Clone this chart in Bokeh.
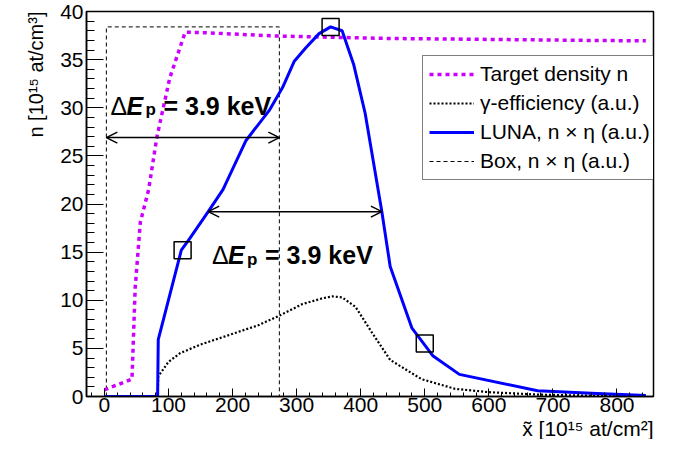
from bokeh.plotting import figure
from bokeh.models import Range1d, SingleIntervalTicker, Arrow, OpenHead, Label, Legend, LegendItem, Title
from bokeh.embed import file_html
from bokeh.resources import INLINE

# ---- data ----
x_density = [0, 43, 48, 56, 69, 82, 102, 126, 155, 268, 443, 600, 750, 845]
y_density = [0.7, 1.8, 11.3, 18.1, 21.5, 27.0, 33.1, 37.85, 37.8, 37.45, 37.2, 37.1, 37.0, 36.95]

x_eff = [0, 83, 84, 100, 118, 150, 195, 240, 273, 309, 340, 356, 371, 392, 418, 446, 495, 547, 600, 676, 760, 845]
y_eff = [0, 0, 2.1, 3.6, 4.5, 5.4, 6.4, 7.4, 8.4, 9.6, 10.2, 10.4, 10.3, 9.3, 6.6, 3.8, 1.8, 0.8, 0.45, 0.2, 0.08, 0.03]

x_luna = [0, 83, 84, 120, 133, 162, 185, 221, 257, 278, 296, 314, 335, 353, 371, 389, 407, 433, 446, 480, 513, 554, 676, 760, 845]
y_luna = [0, 0, 5.9, 15.2, 16.4, 19.2, 21.5, 26.6, 29.7, 32.1, 34.8, 36.2, 37.7, 38.4, 38.0, 34.5, 29.4, 19.2, 13.5, 7.1, 4.2, 2.3, 0.6, 0.35, 0.1]

x_box = [3, 3, 273, 273]
y_box = [0, 38.4, 38.4, 0]

x_squares = [122, 353, 500]
y_squares = [15.2, 38.4, 5.5]

arrow_upper = (3, 273, 26.9)
arrow_lower = (162, 433, 19.2)

legend_labels = ["Target density n", "γ-efficiency (a.u.)", "LUNA, n × η (a.u.)", "Box, n × η (a.u.)"]
x_title = "x̃ [10¹⁵ at/cm²]"
y_title = "n [10¹⁵ at/cm³]"

FONT = "Liberation Sans"

p = figure(width=667, height=439, output_backend="svg", toolbar_location=None,
           x_range=Range1d(-28, 857), y_range=Range1d(0, 40),
           min_border_left=86, min_border_right=14, min_border_top=11, min_border_bottom=41)
p.background_fill_color = "white"
p.border_fill_color = "white"
p.grid.visible = False
p.outline_line_color = "black"
p.outline_line_width = 1.5

# axes
p.xaxis.ticker = SingleIntervalTicker(interval=100, num_minor_ticks=5)
p.yaxis.ticker = SingleIntervalTicker(interval=5, num_minor_ticks=5)
for ax in (p.xaxis[0], p.yaxis[0]):
    ax.axis_line_color = "black"
    ax.axis_line_width = 1.5
    ax.major_tick_line_color = "black"
    ax.minor_tick_line_color = "black"
    ax.major_tick_out = 0
    ax.minor_tick_out = 0
    ax.major_label_text_font = FONT
    ax.major_label_text_font_size = "21px"
    ax.major_label_text_color = "black"
p.xaxis.major_tick_in = 8
p.xaxis.minor_tick_in = 4
p.yaxis.major_tick_in = 17
p.yaxis.minor_tick_in = 8
p.xaxis.major_label_standoff = 1
p.yaxis.major_label_standoff = 3

# axis titles (right / top aligned, as in ROOT)
p.add_layout(Title(text=x_title, align="right", text_font=FONT, text_font_size="21px",
                   text_font_style="normal", text_color="black", standoff=0), "below")
p.add_layout(Title(text=y_title, align="right", text_font=FONT, text_font_size="20px",
                   text_font_style="normal", text_color="black", standoff=21), "left")

def lab(x, y, text, size, style="normal", xo=0, yo=0):
    p.add_layout(Label(x=x, y=y, x_offset=xo, y_offset=yo, text=text,
                       text_font=FONT, text_font_style=style, text_font_size=size,
                       text_color="black", text_baseline="alphabetic", text_align="left"))

# curves
r_box = p.line(x_box, y_box, line_color="black", line_width=1, line_dash="4 3")
r_dens = p.line(x_density, y_density, line_color="#cc00ff", line_width=3.5, line_dash="4 4")
r_eff = p.line(x_eff, y_eff, line_color="black", line_width=2.2, line_dash="2 2")
r_luna = p.line(x_luna, y_luna, line_color="#0000ff", line_width=3)
p.scatter(x_squares, y_squares, marker="square", size=17, fill_color=None,
          line_color="black", line_width=1.5)

# arrows
for (xa, xb, ya) in (arrow_upper, arrow_lower):
    p.add_layout(Arrow(start=OpenHead(size=11, line_width=1.5, line_color="black"),
                       end=OpenHead(size=11, line_width=1.5, line_color="black"),
                       x_start=xa, y_start=ya, x_end=xb, y_end=ya,
                       line_color="black", line_width=1.5))

# Delta E_p annotations
def delta_label(x0, y0):
    lab(x0, y0, "Δ", "25px")
    lab(x0, y0, "E", "25px", style="bold italic", xo=16)
    lab(x0, y0, "p", "17px", style="bold", xo=35, yo=-4)
    lab(x0, y0, "= 3.9 keV", "25px", style="bold", xo=53)

delta_label(9.4, 30.2)
delta_label(168, 14.7)

# legend
legend = Legend(items=[LegendItem(label=legend_labels[0], renderers=[r_dens]),
                       LegendItem(label=legend_labels[1], renderers=[r_eff]),
                       LegendItem(label=legend_labels[2], renderers=[r_luna]),
                       LegendItem(label=legend_labels[3], renderers=[r_box])],
                location=(336, 216))
legend.label_text_font = FONT
legend.label_text_font_size = "21px"
legend.label_text_color = "black"
legend.glyph_width = 45
legend.glyph_height = 24
legend.label_height = 24
legend.label_standoff = 6
legend.spacing = 5
legend.padding = 6
legend.margin = 0
legend.border_line_color = "black"
legend.border_line_width = 1
legend.background_fill_color = "white"
legend.background_fill_alpha = 1
p.add_layout(legend, "center")

open("out.html", "w").write(file_html(p, INLINE))
